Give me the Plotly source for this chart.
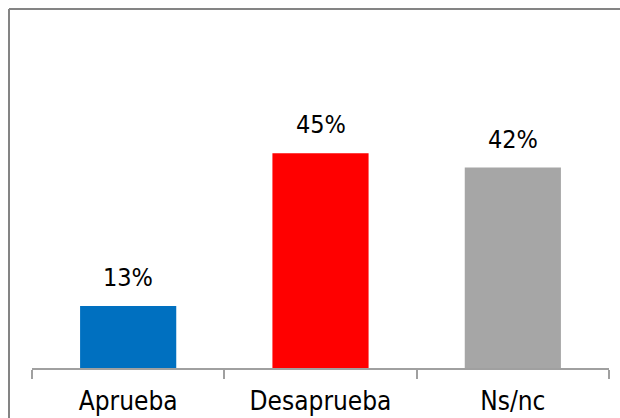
import plotly.graph_objects as go

# Approval survey results
categories = ["Aprueba", "Desaprueba", "Ns/nc"]
values = [13, 45, 42]
value_labels = ["13%", "45%", "42%"]
bar_colors = ["#0070C0", "#FF0000", "#A6A6A6"]

W, H = 620, 418
ML, MR, MT, MB = 32, 11, 10, 50
FONT = "DejaVu Sans Condensed, Liberation Sans, sans-serif"

fig = go.Figure(
    go.Bar(
        x=categories,
        y=values,
        marker=dict(color=bar_colors, line=dict(width=0)),
        width=0.5,
        hoverinfo="skip",
    )
)

# Value labels above each bar
for cat, val, lab in zip(categories, values, value_labels):
    fig.add_annotation(
        x=cat, y=val, text=lab, showarrow=False,
        yanchor="bottom", yshift=12,
        font=dict(family=FONT, size=25, color="#000000"),
    )

# Outer chart frame (left and top edges visible)
plot_w = W - ML - MR
plot_h = H - MT - MB
fx = (9 - ML) / plot_w
fy = 1 + (MT - 9) / plot_h
frame = dict(color="#848484", width=2)
fig.add_shape(type="line", xref="paper", yref="paper", x0=fx, x1=1.2, y0=fy, y1=fy, line=frame)
fig.add_shape(type="line", xref="paper", yref="paper", x0=fx, x1=fx, y0=-0.3, y1=fy, line=frame)

fig.update_layout(
    width=W, height=H,
    margin=dict(l=ML, r=MR, t=MT, b=MB, pad=0, autoexpand=False),
    paper_bgcolor="#FFFFFF",
    plot_bgcolor="#FFFFFF",
    showlegend=False,
    xaxis=dict(
        type="category",
        range=[-0.5, 2.5],
        tickson="boundaries",
        ticks="outside",
        ticklen=9,
        tickwidth=2,
        tickcolor="#A0A0A0",
        showline=True,
        linecolor="#A0A0A0",
        linewidth=2,
        showgrid=False,
        automargin=False,
        ticklabelstandoff=9,
        tickfont=dict(family=FONT, size=26, color="#000000"),
        fixedrange=True,
    ),
    yaxis=dict(
        range=[0, 75],
        visible=False,
        showgrid=False,
        zeroline=False,
        automargin=False,
        fixedrange=True,
    ),
)

fig.write_html("out.html", config={"displayModeBar": False})
